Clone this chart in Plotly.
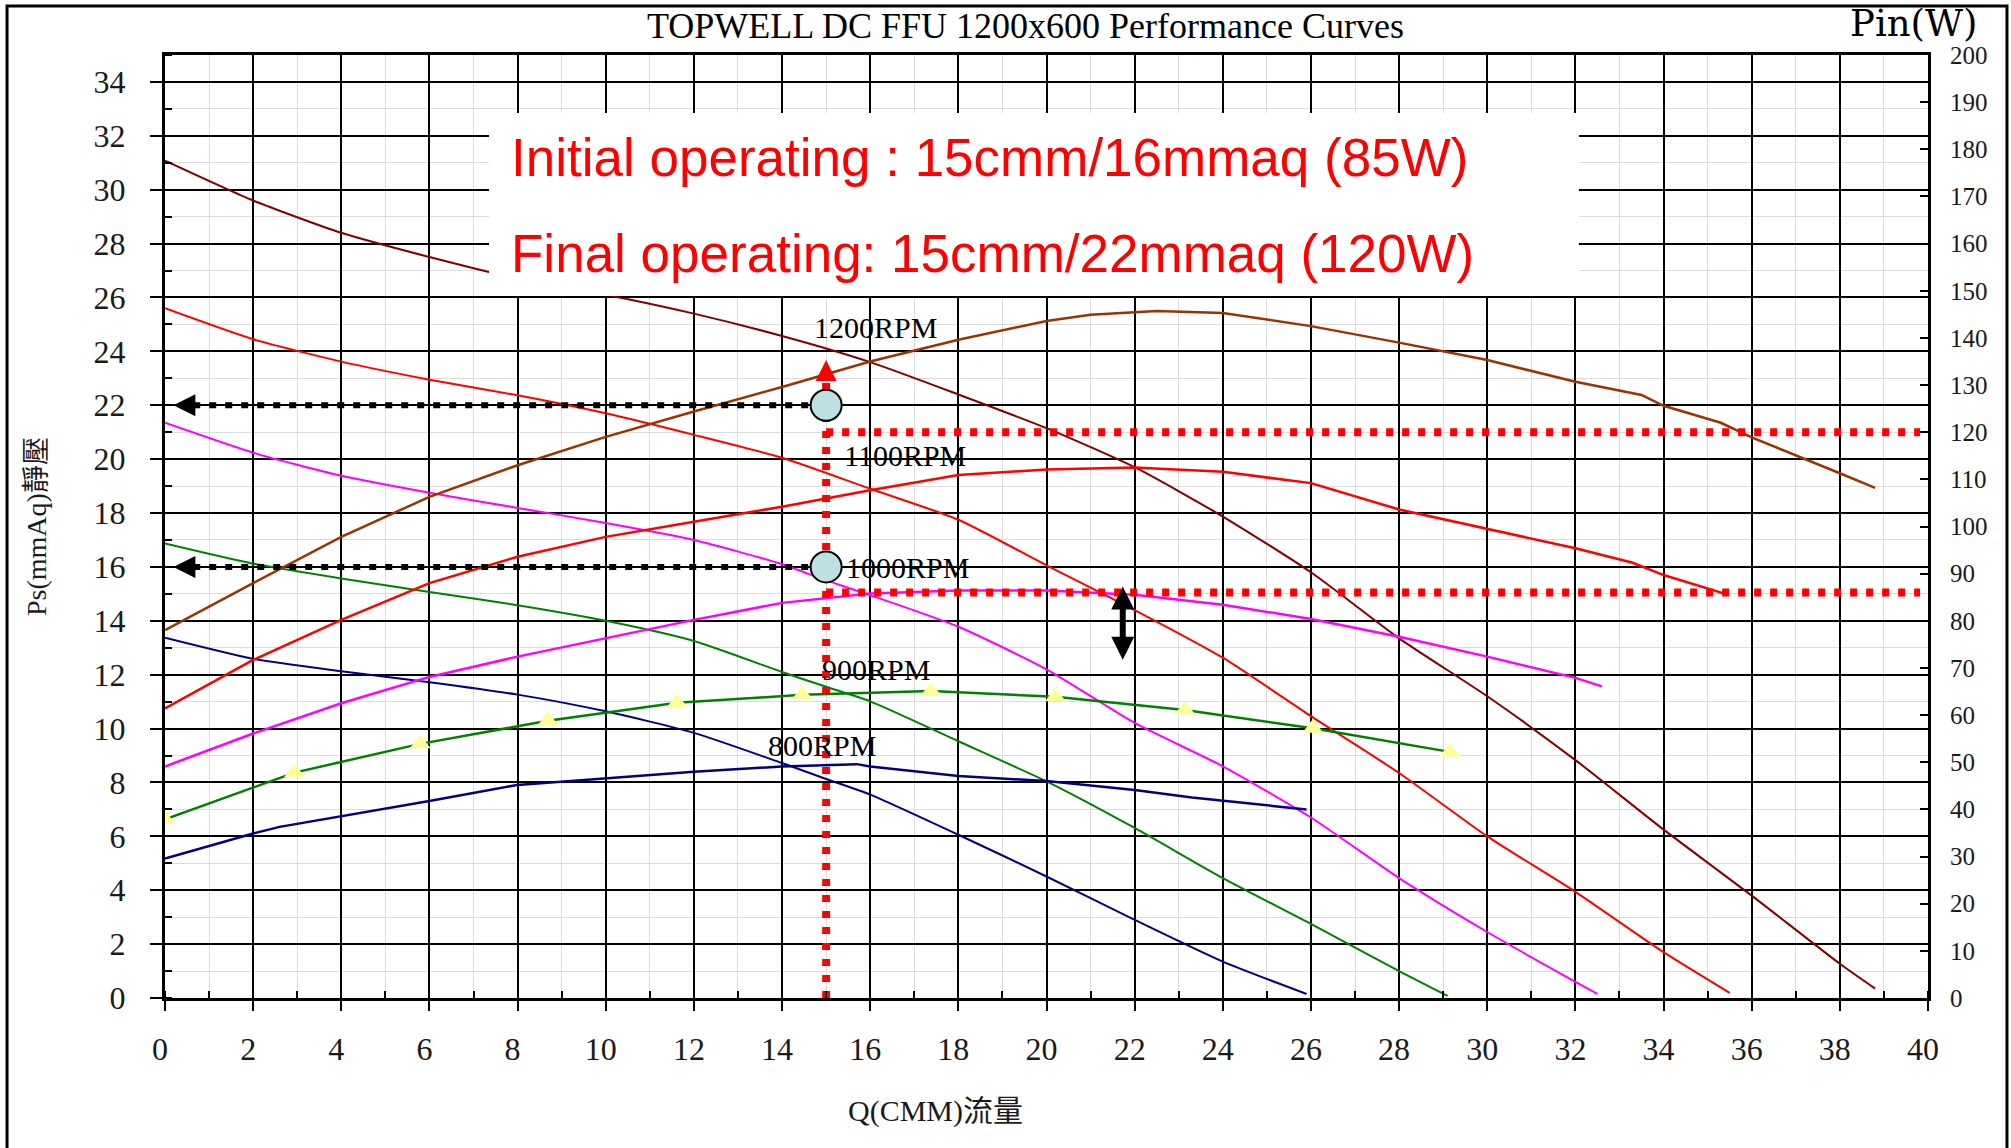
import plotly.graph_objects as go

# ---------------- data ----------------
# Static pressure curves (mmAq) vs flow Q (CMM)
q_pq_1200 = [0, 2, 4, 6, 8, 10, 12, 14, 16, 18, 20, 22, 24, 26, 28, 30, 32, 34, 36, 38, 38.8]
ps_1200 = [31.08, 29.6, 28.4, 27.5, 26.7, 26.1, 25.4, 24.57, 23.6, 22.4, 21.15, 19.7, 17.87, 15.8, 13.35, 11.2, 8.83, 6.25, 3.8, 1.27, 0.35]

q_pq_1100 = [0, 2, 4, 6, 8, 10, 12, 14, 16, 18, 20, 22, 24, 26, 28, 30, 32, 34, 35.5]
ps_1100 = [25.6, 24.45, 23.62, 22.95, 22.37, 21.7, 20.9, 20.05, 18.9, 17.75, 16.06, 14.4, 12.63, 10.46, 8.35, 6.0, 3.94, 1.7, 0.19]

q_pq_1000 = [0, 2, 4, 6, 8, 10, 12, 14, 15, 16, 18, 20, 22, 24, 26, 28, 30, 32, 32.5]
ps_1000 = [21.35, 20.24, 19.38, 18.75, 18.19, 17.63, 17.0, 16.1, 15.5, 14.95, 13.78, 12.2, 10.21, 8.6, 6.7, 4.45, 2.45, 0.6, 0.15]

q_pq_900 = [0, 2, 4, 6, 8, 10, 12, 14, 15, 16, 18, 20, 22, 24, 26, 28, 29.1]
ps_900 = [16.87, 16.12, 15.57, 15.07, 14.58, 14.0, 13.25, 12.1, 11.55, 11.01, 9.53, 8.04, 6.31, 4.45, 2.75, 1.0, 0.08]

q_pq_800 = [0, 2, 4, 6, 8, 10, 12, 14, 15, 16, 18, 20, 22, 24, 25.9]
ps_800 = [13.37, 12.59, 12.13, 11.72, 11.26, 10.64, 9.84, 8.72, 8.13, 7.55, 6.06, 4.51, 2.9, 1.35, 0.15]

# Input power curves (W) vs flow Q (CMM)
q_pin_1200 = [0, 2, 4, 6, 8, 10, 12, 14, 16, 18, 20, 21, 22.5, 24, 26, 28, 30, 32, 33.5, 34, 35.3, 36, 38, 38.8]
pin_1200 = [78.0, 88.0, 97.8, 106.3, 113.0, 119.0, 124.4, 129.6, 135.0, 139.6, 143.6, 144.9, 145.7, 145.3,
            142.5, 139.0, 135.3, 130.7, 127.9, 125.6, 122.0, 118.9, 111.3, 108.2]

q_pin_1100 = [0, 2, 4, 6, 8, 10, 12, 14, 16, 18, 20, 22, 24, 26, 28, 30, 32, 33.3, 34, 35.4]
pin_1100 = [61.4, 71.7, 80.2, 88.0, 93.6, 97.8, 101.0, 104.2, 107.7, 110.9, 112.1, 112.5, 111.6, 109.2, 103.6,
            99.5, 95.4, 92.3, 89.7, 85.7]

q_pin_1000 = [0, 2, 4, 6, 8, 10, 12, 14, 16, 18, 20, 22, 24, 26, 28, 30, 32, 32.6]
pin_1000 = [49.1, 56.1, 62.5, 68.1, 72.4, 76.3, 80.2, 83.8, 85.8, 86.4, 86.4, 85.5, 83.4, 80.4, 76.6, 72.4, 67.9, 66.1]

q_pin_900 = [0, 2.94, 5.79, 8.69, 11.62, 14.46, 17.38, 20.2, 23.14, 26.04, 29.15]
pin_900 = [37.9, 47.8, 53.9, 58.8, 62.6, 64.3, 65.1, 63.9, 61.1, 57.2, 52.2]

q_pin_800 = [0, 2, 2.6, 4, 6, 8, 10, 12, 14, 15.7, 16, 18, 20, 22, 23.3, 24, 25.9]
pin_800 = [29.6, 34.9, 36.3, 38.5, 41.8, 45.2, 46.6, 48.0, 49.1, 49.6, 49.1, 47.1, 46.0, 44.1, 42.5, 41.8, 40.0]

# Operating points
op_q = 15
op_ps = [22, 16]          # final, initial static pressure (mmAq)
op_pin = [120, 86]        # final, initial power guide lines (W)
arrow_tip_q_left = 0.19   # black arrows to the Ps axis
arrow_tip_q_right = 40.32 # red arrows to the Pin axis
up_arrow_ps = 23.68       # red vertical arrow tip
up_line_ps = 22.95
dbl_arrow_q = 21.73
dbl_arrow_ps = [15.27, 12.55]

rpm_labels = ["1200RPM", "1100RPM", "1000RPM", "900RPM", "800RPM"]
rpm_label_q = [14.68, 15.36, 15.40, 14.87, 13.64]
rpm_label_ps = [24.9, 20.12, 15.98, 12.2, 9.39]

x_ticks = list(range(0, 41, 2))
y_ticks = list(range(0, 35, 2))
y2_ticks = list(range(0, 201, 10))

title_text = "TOPWELL DC FFU 1200x600 Performance Curves"
note_lines = ["Initial operating : 15cmm/16mmaq (85W)", "Final operating: 15cmm/22mmaq (120W)"]

# ---------------- styles ----------------
C_1200_PQ = "#800000"
C_1200_PIN = "#993300"
C_1100 = "#FF0000"
C_1000 = "#FF00FF"
C_900 = "#008000"
C_800 = "#000080"
SERIF = "Liberation Serif, Times New Roman, serif"
SANS = "Liberation Sans, Arial, sans-serif"

fig = go.Figure()

# PQ curves (left axis)
for q, ps, c in [(q_pq_1200, ps_1200, C_1200_PQ), (q_pq_1100, ps_1100, C_1100), (q_pq_1000, ps_1000, C_1000),
                 (q_pq_900, ps_900, C_900), (q_pq_800, ps_800, C_800)]:
    fig.add_trace(go.Scatter(x=q, y=ps, mode="lines", line=dict(color=c, width=2, shape="spline", smoothing=0.6),
                             yaxis="y", hoverinfo="skip"))

# Pin curves (right axis)
for q, w, c in [(q_pin_1200, pin_1200, C_1200_PIN), (q_pin_1100, pin_1100, C_1100), (q_pin_1000, pin_1000, C_1000),
                (q_pin_800, pin_800, C_800)]:
    fig.add_trace(go.Scatter(x=q, y=w, mode="lines", line=dict(color=c, width=2.5),
                             yaxis="y2", hoverinfo="skip"))
fig.add_trace(go.Scatter(x=q_pin_900, y=pin_900, mode="lines+markers", line=dict(color=C_900, width=2.5),
                         marker=dict(symbol="triangle-up", size=18, color="#FFFF99"), yaxis="y2", hoverinfo="skip"))

# Red guide lines at the power levels (W axis overlay)
for w in op_pin:
    fig.add_trace(go.Scatter(x=[op_q, arrow_tip_q_right - 0.5], y=[w, w], mode="lines",
                             line=dict(color="#FF0000", width=8, dash="7px,9px"), yaxis="y3", hoverinfo="skip"))
fig.add_trace(go.Scatter(x=[arrow_tip_q_right] * len(op_pin), y=op_pin, mode="markers",
                         marker=dict(symbol="arrow-right", size=24, color="#FF0000"), yaxis="y3",
                         cliponaxis=False, hoverinfo="skip"))

# Red vertical guide line at Q = 15
fig.add_trace(go.Scatter(x=[op_q, op_q], y=[0, up_line_ps], mode="lines",
                         line=dict(color="#FF0000", width=8, dash="7px,9px"), yaxis="y4", hoverinfo="skip"))
fig.add_trace(go.Scatter(x=[op_q], y=[up_arrow_ps], mode="markers",
                         marker=dict(symbol="arrow-up", size=21, color="#FF0000"), yaxis="y4",
                         cliponaxis=False, hoverinfo="skip"))

# Black guide lines at the static pressures
for ps in op_ps:
    fig.add_trace(go.Scatter(x=[arrow_tip_q_left + 0.45, op_q], y=[ps, ps], mode="lines",
                             line=dict(color="black", width=6, dash="7px,9px"), yaxis="y4", hoverinfo="skip"))
fig.add_trace(go.Scatter(x=[arrow_tip_q_left] * len(op_ps), y=op_ps, mode="markers",
                         marker=dict(symbol="arrow-left", size=22, color="black"), yaxis="y4",
                         cliponaxis=False, hoverinfo="skip"))

# Double-headed black arrow
fig.add_trace(go.Scatter(x=[dbl_arrow_q, dbl_arrow_q], y=[dbl_arrow_ps[1] + 0.6, dbl_arrow_ps[0] - 0.6],
                         mode="lines", line=dict(color="black", width=6), yaxis="y4", hoverinfo="skip"))
fig.add_trace(go.Scatter(x=[dbl_arrow_q, dbl_arrow_q], y=dbl_arrow_ps, mode="markers",
                         marker=dict(symbol=["arrow-up", "arrow-down"], size=23, color="black"), yaxis="y4",
                         hoverinfo="skip"))

# Operating point circles
fig.add_trace(go.Scatter(x=[op_q] * len(op_ps), y=op_ps, mode="markers",
                         marker=dict(symbol="circle", size=31, color="#BDE0E3", line=dict(color="black", width=2)),
                         yaxis="y4", hoverinfo="skip"))

tickfont = dict(family=SERIF, size=32, color="#1a1a1a")
fig.update_layout(
    width=2011, height=1148,
    margin=dict(l=165, r=83, t=55, b=150),
    paper_bgcolor="white", plot_bgcolor="white", showlegend=False,
    xaxis=dict(range=[0, 40], tickmode="array", tickvals=x_ticks, ticktext=[str(v) for v in x_ticks],
               showgrid=True, gridcolor="black", gridwidth=2, zeroline=False,
               ticks="outside", ticklen=10, tickwidth=2, tickcolor="black",
               showline=True, linecolor="black", linewidth=3, mirror=True,
               tickfont=tickfont, ticklabelstandoff=11, ticklabelshift=-5,
               minor=dict(dtick=1, showgrid=True, gridcolor="#dcdcdc", gridwidth=1,
                          ticks="inside", ticklen=7, tickwidth=2, tickcolor="black")),
    yaxis=dict(range=[0, 35], tickmode="array", tickvals=y_ticks, ticktext=[str(v) for v in y_ticks],
               showgrid=True, gridcolor="black", gridwidth=2, zeroline=False,
               ticks="outside", ticklen=12, tickwidth=2, tickcolor="black",
               showline=True, linecolor="black", linewidth=3,
               tickfont=tickfont, ticklabelstandoff=18,
               minor=dict(dtick=1, showgrid=True, gridcolor="#dcdcdc", gridwidth=1,
                          ticks="inside", ticklen=7, tickwidth=2, tickcolor="black")),
    yaxis2=dict(range=[0, 200], overlaying="y", side="right", tickmode="array", tickvals=y2_ticks,
                ticktext=[str(v) for v in y2_ticks], showgrid=False, zeroline=False,
                ticks="inside", ticklen=8, tickwidth=2, tickcolor="black",
                showline=True, linecolor="black", linewidth=3,
                tickfont=dict(family=SERIF, size=25, color="#1a1a1a"), ticklabelstandoff=14),
    yaxis3=dict(range=[0, 200], overlaying="y", visible=False),
    yaxis4=dict(range=[0, 35], overlaying="y", visible=False),
)

# White note box covering the grid and curves
fig.add_shape(type="rect", xref="paper", yref="paper", x0=0.1838, x1=0.802, y0=0.7444, y1=0.9385,
              fillcolor="white", line=dict(width=0), layer="above")
# Outer frame
fig.add_shape(type="rect", xref="paper", yref="paper", x0=-0.0896, x1=1.0448, y0=-0.17, y1=1.052,
              line=dict(color="black", width=3), layer="below")

# Texts
fig.add_annotation(text=title_text, xref="paper", yref="paper", x=0.488, y=1.031, showarrow=False,
                   font=dict(family=SERIF, size=36, color="black"), xanchor="center", yanchor="middle")
fig.add_annotation(text="Pin(W)", xref="paper", yref="paper", x=0.9918, y=1.0335, showarrow=False,
                   font=dict(family="DejaVu Serif, Liberation Serif, serif", size=37, color="black"),
                   xanchor="center", yanchor="middle")
fig.add_annotation(text="Ps(mmAq)靜壓", xref="paper", yref="paper", x=-0.0732, y=0.5005, showarrow=False,
                   textangle=-90, font=dict(family="Liberation Serif, Noto Sans CJK TC", size=28, color="#1a1a1a"),
                   xanchor="center", yanchor="middle")
fig.add_annotation(text="Q(CMM)流量", xref="paper", yref="paper", x=0.4373, y=-0.1194, showarrow=False,
                   font=dict(family="Liberation Serif, Noto Sans CJK TC", size=30, color="#1a1a1a"),
                   xanchor="center", yanchor="middle")
for txt, yy in zip(note_lines, [0.891, 0.790]):
    fig.add_annotation(text=txt, xref="paper", yref="paper", x=0.195, y=yy, showarrow=False,
                       font=dict(family=SANS, size=53, color="#FF0000"), xanchor="left", yanchor="middle")
for txt, xq, yp in zip(rpm_labels, rpm_label_q, rpm_label_ps):
    fig.add_annotation(text=txt, x=xq, y=yp, xref="x", yref="y", showarrow=False,
                       font=dict(family=SERIF, size=30, color="black"), xanchor="left", yanchor="middle")

fig.write_html("out.html")
